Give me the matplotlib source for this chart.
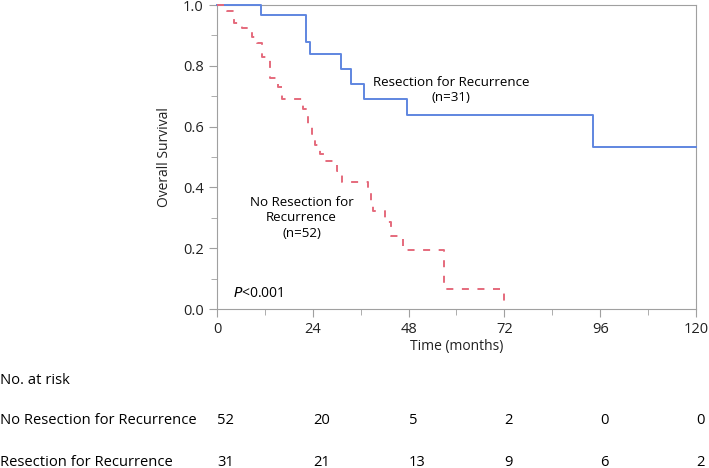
import matplotlib
matplotlib.use("Agg")
import matplotlib.pyplot as plt
import matplotlib.transforms as mtransforms

plt.rcParams['font.family'] = ['Open Sans', 'DejaVu Sans']

# Kaplan-Meier steps
time_res = [0, 11.0, 22.4, 23.2, 31.1, 33.7, 36.9, 47.5, 94.3, 120]
surv_res = [1.0, 0.968, 0.879, 0.838, 0.789, 0.740, 0.691, 0.638, 0.532, 0.532]

time_nores = [0, 2.5, 4.2, 6.3, 8.8, 10.0, 11.2, 13.2, 15.3, 16.3, 21.5, 22.8, 23.8,
              24.6, 25.7, 27.0, 30.0, 31.3, 37.8, 38.5, 39.0, 42.2, 43.5, 46.6, 57.0, 72.0]
surv_nores = [1.0, 0.981, 0.942, 0.923, 0.894, 0.875, 0.829, 0.76, 0.73, 0.69, 0.658, 0.61, 0.577,
              0.538, 0.51, 0.487, 0.455, 0.418, 0.385, 0.355, 0.322, 0.285, 0.24, 0.194, 0.067, 0.0]

risk_times = [0, 24, 48, 72, 96, 120]
risk_nores = [52, 20, 5, 2, 0, 0]
risk_res = [31, 21, 13, 9, 6, 2]

blue = '#5f86e0'
red = '#e56a7c'
grey = '#a0a0a0'

fig = plt.figure(figsize=(7.09, 4.68), dpi=100)
ax = fig.add_axes([0.306, 0.3397, 0.6756, 0.6496])

ax.step(time_res, surv_res, where='post', color=blue, lw=1.4, clip_on=False, zorder=3)
ax.step(time_nores, surv_nores, where='post', color=red, lw=1.4, dashes=(3.6, 4.4),
        clip_on=False, zorder=3)

ax.set_xlim(0, 120)
ax.set_ylim(0, 1.0)
ax.set_xticks(risk_times)
ax.set_xticks([12, 36, 60, 84, 108], minor=True)
ax.set_yticks([0, 0.2, 0.4, 0.6, 0.8, 1.0])
ax.set_yticklabels(['0.0', '0.2', '0.4', '0.6', '0.8', '1.0'])
ax.set_yticks([0.1, 0.3, 0.5, 0.7, 0.9], minor=True)
for s in ax.spines.values():
    s.set_color(grey)
ax.tick_params(which='both', colors=grey, labelcolor='#222222', labelsize=10.5)
ax.tick_params(which='major', length=6)
ax.tick_params(which='minor', length=4)
ax.set_xlabel('Time (months)', fontsize=10, color='#222222', labelpad=1)
ax.set_ylabel('Overall Survival', fontsize=10, color='#222222', labelpad=8)

ax.text(58.7, 0.72, 'Resection for Recurrence\n(n=31)', ha='center', va='center',
        fontsize=9.6, linespacing=1.25)
ax.text(21.2, 0.30, 'No Resection for\nRecurrence\n(n=52)', ha='center', va='center',
        fontsize=9.6, linespacing=1.25)
ax.text(4, 0.05, r'$\mathit{P}$<0.001', ha='left', va='center', fontsize=10)

# risk table below the axes
trans = mtransforms.blended_transform_factory(ax.transData, fig.transFigure)
fs = 10.6
fig.text(0.0, 1 - 380 / 468, 'No. at risk', ha='left', va='center', fontsize=fs)
fig.text(0.0, 1 - 420 / 468, 'No Resection for Recurrence', ha='left', va='center', fontsize=fs)
fig.text(0.0, 1 - 462 / 468, 'Resection for Recurrence', ha='left', va='center', fontsize=fs)
for t, n1, n2 in zip(risk_times, risk_nores, risk_res):
    ax.text(t, 1 - 420 / 468, str(n1), transform=trans, ha='left', va='center', fontsize=fs)
    ax.text(t, 1 - 462 / 468, str(n2), transform=trans, ha='left', va='center', fontsize=fs)

fig.savefig('out.png', dpi=100)
